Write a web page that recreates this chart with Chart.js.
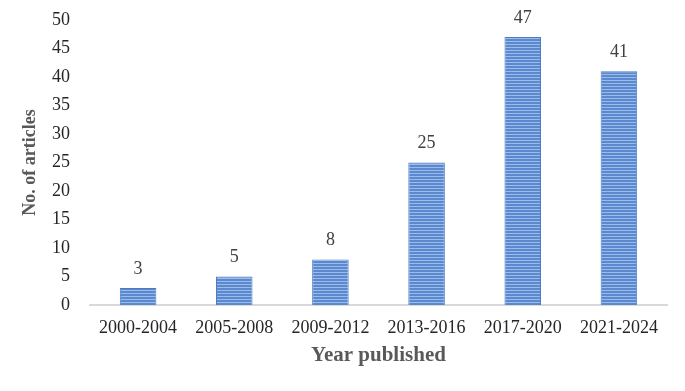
<!DOCTYPE html>
<html>
<head>
<meta charset="utf-8">
<script src="https://cdn.jsdelivr.net/npm/chart.js@4/dist/chart.umd.min.js"></script>
<style>
  html, body { margin: 0; padding: 0; background: #fff; }
  #wrap { width: 685px; height: 391px; }
</style>
</head>
<body>
<div id="wrap"><canvas id="chart" width="685" height="391"></canvas></div>
<script>
const periods = ['2000-2004', '2005-2008', '2009-2012', '2013-2016', '2017-2020', '2021-2024']
const articles = [3, 5, 8, 25, 47, 41]
const yTicks = [0, 5, 10, 15, 20, 25, 30, 35, 40, 45, 50]

// striped fill like the original bars
function stripes(){
    const c = document.createElement('canvas')
    c.width = 4
    c.height = 3
    const ctx = c.getContext('2d')
    ctx.fillStyle = '#5a89d0'
    ctx.fillRect(0, 0, 4, 3)
    ctx.fillStyle = '#9dbbe8'
    ctx.fillRect(0, 2, 4, 1)
    return ctx.createPattern(c, 'repeat')
}

// value on top of every bar
const barValues = {
    id: 'barValues',
    afterDatasetsDraw(chart){
        const ctx = chart.ctx
        const meta = chart.getDatasetMeta(0)
        ctx.save()
        ctx.font = '18px "Liberation Serif", serif'
        ctx.fillStyle = '#404040'
        ctx.textAlign = 'center'
        ctx.textBaseline = 'middle'
        meta.data.forEach((bar, i) => {
            ctx.fillText(articles[i], bar.x, bar.y - 19)
        })
        ctx.restore()
    }
}

const tickFont = { family: '"Liberation Serif", serif', size: 18 }

new Chart(document.getElementById('chart'), {
    type: 'bar',
    data: {
        labels: periods,
        datasets: [{
            data: articles,
            backgroundColor: stripes(),
            borderColor: '#4a7cc4',
            borderWidth: 1,
            barPercentage: 0.38,
            categoryPercentage: 1
        }]
    },
    options: {
        responsive: false,
        animation: false,
        layout: { padding: { left: 0, right: 18, top: 20, bottom: 0 } },
        plugins: { legend: { display: false }, tooltip: { enabled: false } },
        scales: {
            x: {
                grid: { display: false, drawTicks: false },
                border: { color: '#d9d9d9', width: 2 },
                ticks: { color: '#262626', font: tickFont, padding: 12, maxRotation: 0 },
                title: {
                    display: true,
                    text: 'Year published',
                    color: '#595959',
                    font: { family: '"Liberation Serif", serif', size: 21, weight: 'bold' },
                    padding: { top: 0, bottom: 23 }
                },
                afterFit(s){ s.height = 86 }
            },
            y: {
                min: 0,
                max: 50,
                afterBuildTicks(s){ s.ticks = yTicks.map(v => ({ value: v })) },
                grid: { display: false, drawTicks: false },
                border: { display: false },
                ticks: { color: '#262626', font: tickFont, padding: 20 },
                title: {
                    display: true,
                    text: 'No. of articles',
                    color: '#595959',
                    font: { family: '"Liberation Serif", serif', size: 18, weight: 'bold' },
                    padding: { top: 20, bottom: 0 }
                },
                afterFit(s){
                    s.width = 90
                    s.paddingTop = 0
                    s.paddingBottom = 0
                }
            }
        }
    },
    plugins: [barValues]
})
</script>
</body>
</html>
